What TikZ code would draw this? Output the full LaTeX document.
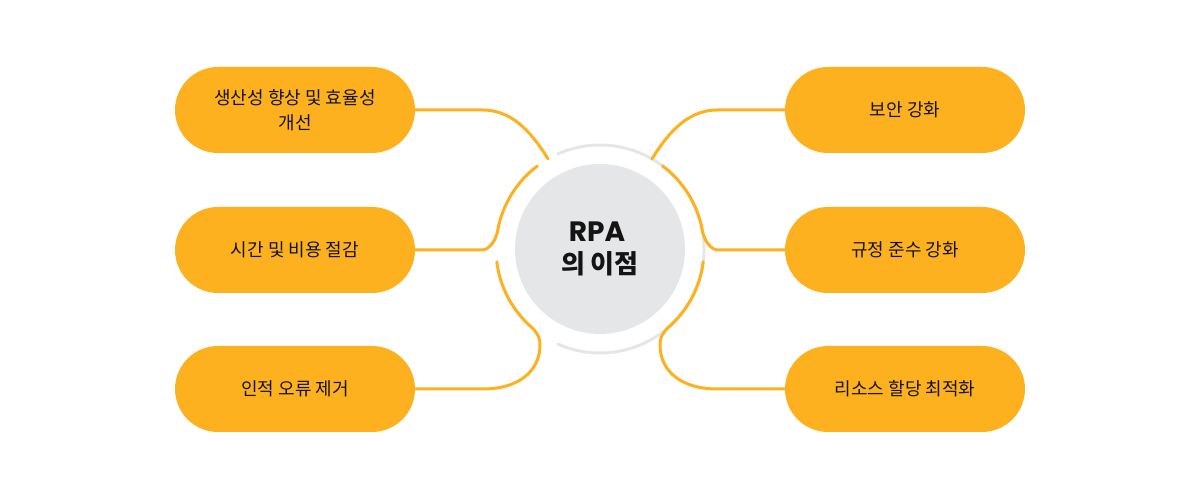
\documentclass[tikz,border=0pt]{standalone}
\usepackage{fontspec}
\setmainfont{Noto Sans CJK KR}
\newfontfamily\pop{Poppins}
\usetikzlibrary{calc}
\definecolor{orng}{HTML}{FEB11F}
\definecolor{ringgray}{HTML}{E6E6E6}
\definecolor{diskgray}{HTML}{E5E6E8}
\definecolor{txt}{HTML}{141414}
\begin{document}
\begin{tikzpicture}[x=1pt,y=1pt,
 box/.style={fill=orng, rounded corners=43pt, minimum width=240pt, minimum height=86pt, inner sep=0pt, align=center, font=\fontsize{18}{25}\selectfont, text=txt},
 conn/.style={draw=orng, line width=3pt, line cap=round},
 ring/.style={draw=ringgray, line width=3pt, line cap=round},
 hubstyle/.style={circle, fill=diskgray, minimum size=170pt, inner sep=0pt, align=center, text=txt, font=\fontsize{26}{32}\selectfont\bfseries}
]
\useasboundingbox (0,0) rectangle (1200,500);
\coordinate (c) at (600,251);
% gray ring
\draw[ring] ($(c)+(-114:104)$) arc[start angle=-114, end angle=114, radius=104];
% hub
\node[hubstyle] (hub) at (c) {{\pop\fontsize{28}{32}\selectfont RPA}\hspace*{6pt}\\의 이점};
% boxes
\node[box] (l1) at (295,390) {생산성 향상 및 효율성\\개선};
\node[box] (l2) at (295,250) {시간 및 비용 절감};
\node[box] (l3) at (295,111) {인적 오류 제거};
\node[box] (r1) at (905,390) {보안 강화};
\node[box] (r2) at (905,250) {규정 준수 강화};
\node[box] (r3) at (905,111) {리소스 할당 최적화};
% connectors
\coordinate (a1) at ($(c)+(120:104)$);
\coordinate (b1) at ($(c)+(60:104)$);
\draw[conn] (l1.east) -- (483,390) .. controls (515,390) and (535,362) .. (a1);
\draw[conn] (r1.west) -- (717,390) .. controls (685,390) and (665,362) .. (b1);
\coordinate (a2) at ($(c)+(127:104)$);
\coordinate (b2) at ($(c)+(53:104)$);
\draw[conn] (a2) arc[start angle=127, end angle=170, radius=104]
  .. controls +(-0.174*8,-0.985*8) and (490,250) .. (482,250) -- (l2.east);
\draw[conn] (b2) arc[start angle=53, end angle=10, radius=104]
  .. controls +(0.174*8,-0.985*8) and (710,250) .. (718,250) -- (r2.west);
\coordinate (a3) at ($(c)+(187:104)$);
\coordinate (b3) at ($(c)+(-7:104)$);
\draw[conn] (a3) arc[start angle=187, end angle=228, radius=104]
  .. controls +(0.743*9,-0.669*9) and (540,163) .. (540,155)
  .. controls (540,130) and (520,111) .. (483,111) -- (l3.east);
\draw[conn] (b3) arc[start angle=-7, end angle=-48, radius=104]
  .. controls +(-0.743*9,-0.669*9) and (660,163) .. (660,155)
  .. controls (660,130) and (680,111) .. (717,111) -- (r3.west);
\end{tikzpicture}
\end{document}
